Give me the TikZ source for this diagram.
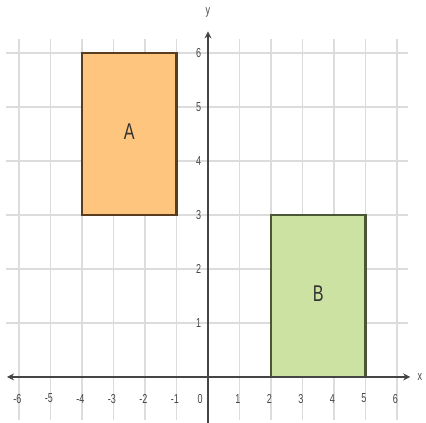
\documentclass[tikz,border=0pt]{standalone}
\usepackage{fontspec}
\setmainfont{Liberation Sans}
\usetikzlibrary{arrows.meta}
\definecolor{gridc}{HTML}{DCDCDC}
\definecolor{axisc}{HTML}{454545}
\definecolor{afill}{HTML}{FDC57E}
\definecolor{aedge}{HTML}{5A3C1E}
\definecolor{bfill}{HTML}{CBE2A3}
\definecolor{bedge}{HTML}{4A5636}
\tikzset{
  gridline/.style={draw=gridc, line width=1.6pt},
  axisline/.style={draw=axisc, line width=2.4pt},
  ticklab/.style={font=\fontsize{10}{10}\selectfont, text=axisc, inner sep=0pt, xscale=0.9, yscale=1.3, transform shape},
  rectA/.style={fill=afill, draw=aedge, line width=2.2pt},
  rectB/.style={fill=bfill, draw=bedge, line width=2.2pt},
  shapelab/.style={font=\fontsize{19}{19}\selectfont, text=black!80, inner sep=0pt, xscale=0.85, yscale=1.2, transform shape},
}
\begin{document}
\begin{tikzpicture}[x=31.5pt, y=54pt]
\useasboundingbox (-6.603,-0.852) rectangle (6.921,6.981);
% grid
\foreach \i in {-6,...,-1,1,2,...,6}
  \draw[gridline] (\i,-0.8) -- (\i,6.25);
\foreach \j in {1,...,6}
  \draw[gridline] (-6.4,\j) -- (6.35,\j);
% rectangles
\draw[rectA] (-4,3) rectangle (-1,6);
\draw[rectB] (2,0) rectangle (5,3);
\node[shapelab] (labA) at (-2.5,4.55) {A};
\node[shapelab] (labB) at (3.5,1.55) {B};
% axes
\coordinate (xl) at (-6.38,0);
\coordinate (xr) at (6.42,0);
\coordinate (yb) at (0,-0.85);
\coordinate (yt) at (0,6.4);
\draw[axisline, {Stealth[length=7pt,width=7pt]}-{Stealth[length=7pt,width=7pt]}] (xl) -- (xr);
\draw[axisline, -{Stealth[length=7pt,width=7pt]}] (yb) -- (yt);
\node[ticklab] (xlab) at (6.73,0) {x};
\node[ticklab] (ylab) at (0,6.76) {y};
% tick labels
\foreach \i in {-6,...,-1,1,2,...,6}
  \node[ticklab] (tx\i) at (\i-0.05,-0.4) {\i};
\node[ticklab] (t0) at (-0.25,-0.4) {0};
\foreach \j in {1,...,6}
  \node[ticklab] (ty\j) at (-0.3,\j) {\j};
\end{tikzpicture}
\end{document}
